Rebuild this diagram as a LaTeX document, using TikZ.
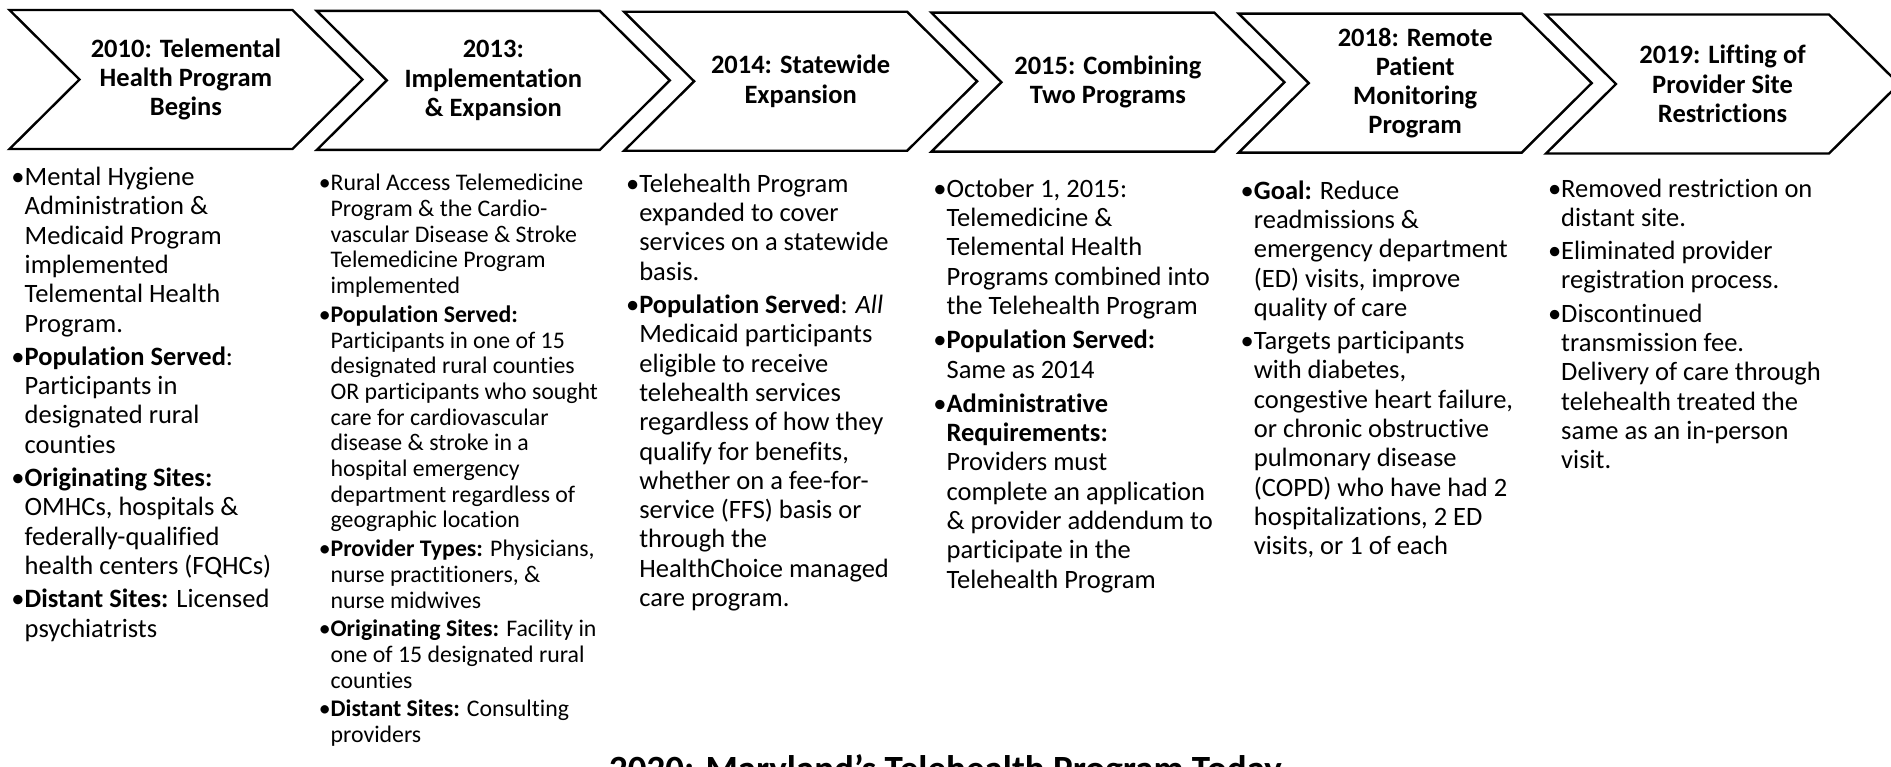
\documentclass[tikz,border=0pt]{standalone}
\usepackage{fontspec}
\setmainfont{Carlito}[Ligatures={TeX,NoCommon}]
\usetikzlibrary{positioning,calc}

\begin{document}
\begin{tikzpicture}[x=1pt, y=-1pt,
    chev/.style={minimum width=213pt, minimum height=139pt, inner sep=0pt, outer sep=0pt, align=center, font=\bfseries\fontsize{26.5}{29.3}\selectfont},
    notes/.style={inner sep=0pt, outer sep=0pt, font=\fontsize{26.5}{29.3}\selectfont},
    smallnotes/.style={inner sep=0pt, outer sep=0pt, font=\fontsize{23.8}{25.7}\selectfont},
    outline/.style={line width=2.4pt}]
    \path[use as bounding box, fill=white] (0,0) rectangle (1891,767);
    \clip (0,0) rectangle (1891,767);

    % chevrons with the years
    \node (y2010) [chev] at (186,79.5) {2010: Telemental\\Health Program\\Begins};
    \node (y2013) [chev, right=94.3pt of y2010, yshift=-0.9pt] {2013:\\Implementation\\\& Expansion};
    \node (y2014) [chev, right=94.3pt of y2013, yshift=-0.9pt] {2014: Statewide\\Expansion};
    \node (y2015) [chev, right=94.3pt of y2014, yshift=-0.9pt] {2015: Combining\\Two Programs};
    \node (y2018) [chev, right=94.3pt of y2015, yshift=-0.9pt] {2018: Remote\\Patient\\Monitoring\\Program};
    \node (y2019) [chev, right=94.3pt of y2018, yshift=-0.9pt] {2019: Lifting of\\Provider Site\\Restrictions};

    \foreach \n in {y2010,y2013,y2014,y2015,y2018,y2019}
        \draw[outline] ($(\n.north west)+(-70,0)$) -- (\n.north east) -- ($(\n.east)+(70,0)$) -- (\n.south east) -- ($(\n.south west)+(-70,0)$) -- (\n.west) -- cycle;

    % bullet lists under each year
    \node (n2010) [notes, below=16pt of y2010.south west, anchor=north west, xshift=-68pt] {\begin{tabular}{@{}l@{}l@{}}
        \textbullet & Mental Hygiene\\ & Administration \&\\ & Medicaid Program\\ & implemented\\ & Telemental Health\\ & Program.\\[4pt]
        \textbullet & \textbf{Population Served}:\\ & Participants in\\ & designated rural\\ & counties\\[4pt]
        \textbullet & \textbf{Originating Sites:}\\ & OMHCs, hospitals \&\\ & federally-qualified\\ & health centers (FQHCs)\\[4pt]
        \textbullet & \textbf{Distant Sites:} Licensed\\ & psychiatrists
    \end{tabular}};
    \node (n2013) [smallnotes, below=23pt of y2013.south west, anchor=north west, xshift=-68pt] {\begin{tabular}{@{}l@{}l@{}}
        \textbullet & Rural Access Telemedicine\\ & Program \& the Cardio-\\ & vascular Disease \& Stroke\\ & Telemedicine Program\\ & implemented\\[3pt]
        \textbullet & \textbf{Population Served:}\\ & Participants in one of 15\\ & designated rural counties\\ & OR participants who sought\\ & care for cardiovascular\\ & disease \& stroke in a\\ & hospital emergency\\ & department regardless of\\ & geographic location\\[3pt]
        \textbullet & \textbf{Provider Types:} Physicians,\\ & nurse practitioners, \&\\ & nurse midwives\\[3pt]
        \textbullet & \textbf{Originating Sites:} Facility in\\ & one of 15 designated rural\\ & counties\\[3pt]
        \textbullet & \textbf{Distant Sites:} Consulting\\ & providers
    \end{tabular}};
    \node (n2014) [notes, below=21pt of y2014.south west, anchor=north west, xshift=-68pt] {\begin{tabular}{@{}l@{}l@{}}
        \textbullet & Telehealth Program\\ & expanded to cover\\ & services on a statewide\\ & basis.\\[4pt]
        \textbullet & \textbf{Population Served}: \textit{All}\\ & Medicaid participants\\ & eligible to receive\\ & telehealth services\\ & regardless of how they\\ & qualify for benefits,\\ & whether on a fee-for-\\ & service (FFS) basis or\\ & through the\\ & HealthChoice managed\\ & care program.
    \end{tabular}};
    \node (n2015) [notes, below=25pt of y2015.south west, anchor=north west, xshift=-68pt] {\begin{tabular}{@{}l@{}l@{}}
        \textbullet & October 1, 2015:\\ & Telemedicine \&\\ & Telemental Health\\ & Programs combined into\\ & the Telehealth Program\\[5pt]
        \textbullet & \textbf{Population Served:}\\ & Same as 2014\\[5pt]
        \textbullet & \textbf{Administrative}\\ & \textbf{Requirements:}\\ & Providers must\\ & complete an application\\ & \& provider addendum to\\ & participate in the\\ & Telehealth Program
    \end{tabular}};
    \node (n2018) [notes, below=26pt of y2018.south west, anchor=north west, xshift=-68pt] {\begin{tabular}{@{}l@{}l@{}}
        \textbullet & \textbf{Goal:} Reduce\\ & readmissions \&\\ & emergency department\\ & (ED) visits, improve\\ & quality of care\\[4pt]
        \textbullet & Targets participants\\ & with diabetes,\\ & congestive heart failure,\\ & or chronic obstructive\\ & pulmonary disease\\ & (COPD) who have had 2\\ & hospitalizations, 2 ED\\ & visits, or 1 of each
    \end{tabular}};
    \node (n2019) [notes, below=23pt of y2019.south west, anchor=north west, xshift=-68pt] {\begin{tabular}{@{}l@{}l@{}}
        \textbullet & Removed restriction on\\ & distant site.\\[4pt]
        \textbullet & Eliminated provider\\ & registration process.\\[4pt]
        \textbullet & Discontinued\\ & transmission fee.\\ & Delivery of care through\\ & telehealth treated the\\ & same as an in-person\\ & visit.
    \end{tabular}};

    % title at the foot, cut by the lower edge
    \node (today) [anchor=base, font=\bfseries\fontsize{37}{44}\selectfont] at (945.5,781) {2020: Maryland's Telehealth Program Today};
\end{tikzpicture}
\end{document}
